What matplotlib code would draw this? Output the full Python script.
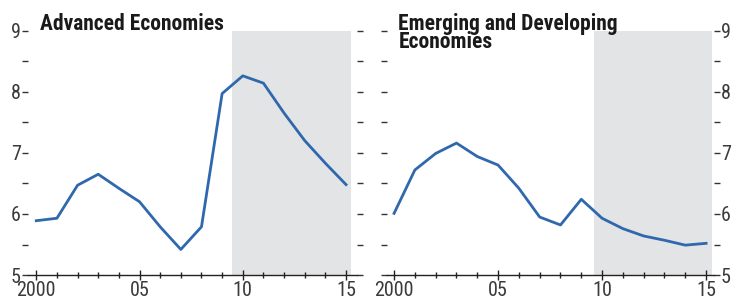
import numpy as np
import matplotlib
matplotlib.use("Agg")
import matplotlib.pyplot as plt
from matplotlib import font_manager
from matplotlib.ticker import MultipleLocator, FixedLocator

years = np.arange(2000, 2016)
adv = [5.89, 5.93, 6.47, 6.65, 6.42, 6.20, 5.79, 5.42, 5.79, 7.97, 8.26, 8.14, 7.65, 7.20, 6.83, 6.48]
emg = [6.01, 6.72, 6.99, 7.16, 6.94, 6.80, 6.42, 5.95, 5.82, 6.24, 5.93, 5.76, 5.64, 5.57, 5.49, 5.52]
xticklabels = ["2000", "05", "10", "15"]
titles = ["Advanced Economies", "Emerging and Developing\nEconomies"]

line_col = "#2f68ad"
shade_col = "#e3e4e6"
txt_col = "#3a3a3a"

# pick a narrow font if one is around
names = {f.name for f in font_manager.fontManager.ttflist}
narrow = "Roboto"
for cand in ["Liberation Sans Narrow", "Roboto Condensed", "DejaVu Sans Condensed", "Roboto"]:
    if cand in names:
        narrow = cand
        break

fig = plt.figure(figsize=(7.32, 3.0), dpi=100)
ax1 = fig.add_axes([28 / 732, 0.083, 329 / 732, 0.815])
ax2 = fig.add_axes([387 / 732, 0.083, 327 / 732, 0.815])

def style(ax, data, title, shade, xlim, side):
    ax.axvspan(shade[0], shade[1], color=shade_col, lw=0, zorder=0)
    ax.plot(years, data, color=line_col, lw=2.0, zorder=3)
    ax.set_xlim(*xlim)
    ax.set_ylim(5, 9)
    for s in ["top", "left", "right"]:
        ax.spines[s].set_visible(False)
    ax.spines["bottom"].set_color("#222222")
    ax.spines["bottom"].set_linewidth(1.0)
    ax.xaxis.set_major_locator(FixedLocator([2000, 2005, 2010, 2015]))
    ax.xaxis.set_minor_locator(MultipleLocator(1))
    ax.set_xticklabels(xticklabels)
    ax.yaxis.set_major_locator(MultipleLocator(1))
    ax.yaxis.set_minor_locator(MultipleLocator(0.5))
    ax.tick_params(axis="x", which="major", direction="inout", length=7, width=1, color="#222222",
                   labelsize=14.5, labelcolor=txt_col, pad=1)
    ax.tick_params(axis="x", which="minor", direction="inout", length=4, width=1, color="#222222")
    ax.tick_params(axis="y", which="both", direction="out", length=4, width=1, color="#333333",
                   left=True, right=True, labelleft=(side == "left"), labelright=(side == "right"),
                   labelsize=14.5, labelcolor=txt_col, pad=1)
    for lab in ax.get_xticklabels() + ax.get_yticklabels():
        lab.set_family([narrow, "DejaVu Sans"])
    ax.text(0.035, 1.07, title, transform=ax.transAxes,
            ha="left", va="top", fontsize=15.5, fontweight="bold", color="#1a1a1a",
            family=[narrow, "DejaVu Sans"], linespacing=0.72, zorder=5)
    ax.patch.set_alpha(0)

style(ax1, adv, titles[0], (2009.5, 2015.25), (1999.6, 2015.53), "left")
style(ax2, emg, titles[1], (2009.6, 2015.3), (1999.66, 2015.38), "right")

fig.savefig("out.png", dpi=100)
